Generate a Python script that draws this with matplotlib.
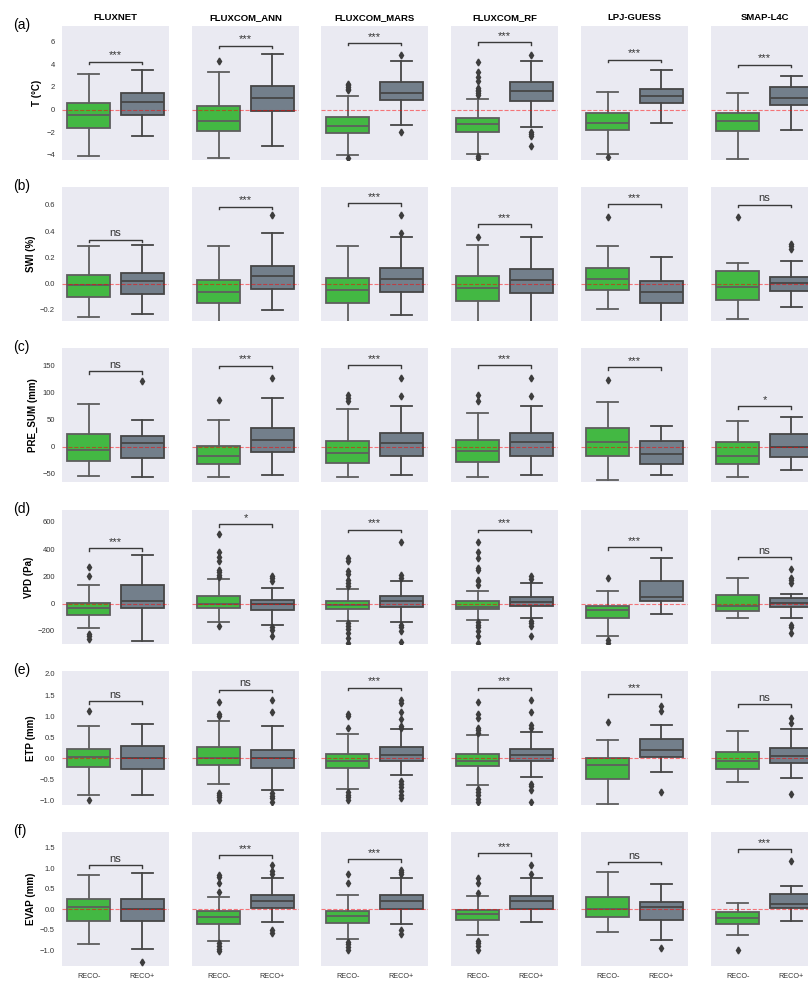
import matplotlib.pyplot as plt

plt.rcParams['font.family'] = ['Liberation Sans', 'DejaVu Sans']

products = ['FLUXNET', 'FLUXCOM_ANN', 'FLUXCOM_MARS', 'FLUXCOM_RF', 'LPJ-GUESS', 'SMAP-L4C']
groups = ['RECO-', 'RECO+']
panel_tags = ['(a)', '(b)', '(c)', '(d)', '(e)', '(f)']
ylabels = ['T (°C)', 'SWI (%)', 'PRE_SUM (mm)', 'VPD (Pa)', 'ETP (mm)', 'EVAP (mm)']

# box statistics, one (RECO-, RECO+) pair per product
t_lo = [(-4.13, -2.32), (-4.26, -3.27), (-4.02, -1.40), (-3.90, -1.58), (-3.90, -1.16), (-4.40, -1.81)]
t_q1 = [(-1.64, -0.51), (-1.88, -0.15), (-2.08, 0.83), (-1.99, 0.80), (-1.85, 0.60), (-1.94, 0.42)]
t_med = [(-0.45, 0.69), (-1.04, 1.04), (-1.46, 1.49), (-1.28, 1.61), (-1.22, 1.16), (-1.04, 1.01)]
t_q3 = [(0.56, 1.49), (0.27, 2.08), (-0.65, 2.41), (-0.71, 2.41), (-0.33, 1.82), (-0.30, 1.99)]
t_hi = [(3.19, 3.51), (3.33, 4.88), (1.22, 4.31), (0.92, 4.31), (1.58, 3.51), (1.46, 2.97)]
t_out = [([], []), ([4.29], []),
         ([2.29, 2.14, 1.99, 1.85, 1.70, -4.31], [4.82, -1.96]),
         ([4.22, 3.33, 2.88, 2.50, 1.90, 1.75, 1.60, 1.45, 1.31, -4.11, -4.31], [4.82, -1.96, -2.17, -2.38, -3.27]),
         ([-4.20], []), ([], [])]
t_bar = [4.22, 5.65, 5.89, 5.95, 4.43, 3.96]
t_sig = ['***', '***', '***', '***', '***', '***']

swi_lo = [(-0.256, -0.231), (-0.35, -0.203), (-0.35, -0.238), (-0.35, -0.35), (-0.19, -0.35), (-0.269, -0.177)]
swi_q1 = [(-0.101, -0.079), (-0.147, -0.041), (-0.147, -0.063), (-0.132, -0.068), (-0.048, -0.150), (-0.122, -0.056)]
swi_med = [(-0.008, 0.020), (-0.066, 0.056), (-0.048, 0.038), (-0.035, 0.028), (0.035, -0.061), (-0.025, 0.005)]
swi_q3 = [(0.068, 0.081), (0.025, 0.132), (0.043, 0.117), (0.061, 0.112), (0.117, 0.018), (0.096, 0.048)]
swi_hi = [(0.284, 0.292), (0.284, 0.390), (0.284, 0.355), (0.292, 0.355), (0.289, 0.203), (0.160, 0.170)]
swi_out = [([], []), ([], [0.52]), ([], [0.522, 0.39]), ([0.357], []), ([0.507], []), ([0.507], [0.304, 0.284, 0.264])]
swi_bar = [0.335, 0.588, 0.613, 0.454, 0.606, 0.603]
swi_sig = ['ns', '***', '***', '***', '***', 'ns']

pre_lo = [(-53.7, -56.8), (-56.2, -51.9), (-56.2, -51.9), (-56.2, -51.9), (-61.1, -51.9), (-55.6, -43.8)]
pre_q1 = [(-25.9, -20.4), (-32.7, -10.5), (-30.9, -17.9), (-29.0, -17.3), (-16.7, -31.5), (-31.5, -19.1)]
pre_med = [(-6.8, 6.2), (-16.7, 12.3), (-12.3, 6.2), (-8.6, 8.0), (9.3, -14.2), (-16.7, -1.2)]
pre_q3 = [(24.1, 20.4), (1.9, 34.6), (10.5, 25.9), (11.7, 24.7), (35.2, 9.9), (8.0, 23.5)]
pre_hi = [(79.6, 49.4), (49.4, 90.1), (69.1, 75.9), (62.3, 75.9), (82.1, 37.7), (48.1, 54.9)]
pre_out = [([], [122.0]), ([85.8], [127.8]), ([95.0, 90.7, 85.2], [127.8, 94.4]),
           ([95.0, 85.2], [127.8, 94.4]), ([122.8], []), ([], [])]
pre_bar = [140, 150, 151, 151, 147, 74.7]
pre_sig = ['ns', '***', '***', '***', '***', '*']

vpd_lo = [(-177, -271), (-138, -160), (-131, -135), (-118, -103), (-239, -76), (-106, -103)]
vpd_q1 = [(-84, -32), (-32, -47), (-42, -27), (-42, -20), (-106, 17), (-54, -27)]
vpd_med = [(-30, 20), (-2.5, -5), (-10, 17), (-22, 12), (-47, 47), (-17, 5)]
vpd_q3 = [(5, 133), (54, 27), (17, 54), (17, 52), (-20, 167), (62, 39)]
vpd_hi = [(138, 355), (182, 116), (106, 165), (89, 148), (94, 333), (190, 71)]
vpd_out = [([268, 200, -224, -241, -259], []),
           ([507, 379, 342, 310, 249, 230, 212, 195, -167], [200, 187, 163, -175, -190, -236]),
           ([335, 310, 239, 214, 175, 153, 126, -143, -167, -187, -219, -255, -290],
            [448, 207, 190, -160, -175, -200, -285]),
           ([448, 377, 333, 263, 244, 175, 163, 140, -138, -158, -175, -200, -240, -290],
            [202, 182, -126, -145, -165, -236]),
           ([190, -268, -290], []),
           ([], [254, 187, 170, 150, -158, -175, -212])]
vpd_bar = [404, 581, 542, 542, 414, 342]
vpd_sig = ['***', '*', '***', '***', '***', 'ns']

etp_lo = [(-0.878, -0.862), (-0.607, -0.758), (-0.734, -0.391), (-0.638, -0.455), (-1.08, -0.319), (-0.567, -0.471)]
etp_q1 = [(-0.207, -0.263), (-0.152, -0.223), (-0.231, -0.064), (-0.192, -0.064), (-0.487, 0.024), (-0.255, -0.112)]
etp_med = [(0.024, 0.008), (0.016, 0.008), (-0.072, 0.088), (-0.056, 0.088), (-0.160, 0.207), (-0.056, 0.048)]
etp_q3 = [(0.223, 0.295), (0.271, 0.184), (0.096, 0.255), (0.096, 0.215), (0.0, 0.463), (0.144, 0.231)]
etp_hi = [(0.758, 0.806), (0.894, 0.774), (0.583, 0.686), (0.559, 0.620), (0.439, 0.782), (0.654, 0.686)]
etp_out = [([1.125, -1.0], []),
           ([1.333, 1.045, 0.998, -0.83, -0.87, -0.92, -1.0], [1.373, 1.10, -0.83, -0.89, -0.95, -1.05]),
           ([1.045, 0.998, 0.718, -0.81, -0.88, -0.93, -1.0],
            [1.37, 1.32, 1.09, 0.926, 0.758, 0.726, -0.53, -0.61, -0.69, -0.77, -0.87, -0.95]),
           ([1.325, 1.045, 0.966, 0.718, 0.662, 0.607, -0.73, -0.79, -0.87, -0.97, -1.05],
            [1.37, 1.09, 0.78, 0.726, -0.60, -0.67, -0.76, -1.05]),
           ([0.87], [1.245, 1.125, -0.798]),
           ([], [0.966, 0.838, -0.854])]
etp_bar = [1.35, 1.63, 1.668, 1.668, 1.516, 1.277]
etp_sig = ['ns', 'ns', '***', '***', '***', 'ns']

evap_lo = [(-0.846, -0.984), (-0.772, -0.325), (-0.740, -0.358), (-0.634, -0.325), (-0.569, -0.756), (-0.642, -0.301)]
evap_q1 = [(-0.285, -0.285), (-0.358, 0.033), (-0.333, 0.008), (-0.268, -0.008), (-0.187, -0.268), (-0.374, 0.033)]
evap_med = [(0.057, 0.008), (-0.195, 0.203), (-0.171, 0.187), (-0.130, 0.187), (0.0, 0.041), (-0.211, 0.122)]
evap_q3 = [(0.236, 0.244), (-0.057, 0.350), (-0.057, 0.333), (-0.016, 0.325), (0.285, 0.163), (-0.065, 0.358)]
evap_hi = [(0.837, 0.878), (0.293, 0.764), (0.333, 0.764), (0.325, 0.764), (0.902, 0.602), (0.154, 0.561)]
evap_out = [([], [-1.3]),
            ([0.837, 0.772, 0.626, 0.407, -0.84, -0.90, -0.97, -1.02], [1.065, 0.935, 0.854, -0.50, -0.59]),
            ([0.862, 0.634, -0.80, -0.86, -0.92, -1.0], [0.951, 0.91, 0.854, -0.51, -0.62]),
            ([0.764, 0.642, 0.39, -0.78, -0.84, -0.89, -1.0], [1.065, 0.854]),
            ([], [-0.959]),
            ([-0.992], [1.179])]
evap_bar = [1.065, 1.31, 1.21, 1.358, 1.146, 1.455]
evap_sig = ['ns', '***', '***', '***', 'ns', '***']

variables = [
    (t_lo, t_q1, t_med, t_q3, t_hi, t_out, t_bar, t_sig),
    (swi_lo, swi_q1, swi_med, swi_q3, swi_hi, swi_out, swi_bar, swi_sig),
    (pre_lo, pre_q1, pre_med, pre_q3, pre_hi, pre_out, pre_bar, pre_sig),
    (vpd_lo, vpd_q1, vpd_med, vpd_q3, vpd_hi, vpd_out, vpd_bar, vpd_sig),
    (etp_lo, etp_q1, etp_med, etp_q3, etp_hi, etp_out, etp_bar, etp_sig),
    (evap_lo, evap_q1, evap_med, evap_q3, evap_hi, evap_out, evap_bar, evap_sig),
]
ylims = [(-4.47, 7.4), (-0.284, 0.737), (-65.4, 182.8), (-296, 686), (-1.11, 2.07), (-1.39, 1.88)]
yticks = [[-4, -2, 0, 2, 4, 6],
          [-0.2, 0.0, 0.2, 0.4, 0.6],
          [-50, 0, 50, 100, 150],
          [-200, 0, 200, 400, 600],
          [-1.0, -0.5, 0.0, 0.5, 1.0, 1.5, 2.0],
          [-1.0, -0.5, 0.0, 0.5, 1.0, 1.5]]

box_colors = ['#43b843', '#737f8b']
line_colors = ['#5e5e5e', '#464646']

FW, FH = 808, 981
left_px = [62, 192, 321, 451, 581, 711]
top_px = [26, 187, 348, 510, 671, 832]
AW, AH = 107, 134

fig = plt.figure(figsize=(FW / 100, FH / 100), dpi=100)

for i, (lo, q1, med, q3, hi, out, bar, sig) in enumerate(variables):
    for j, name in enumerate(products):
        ax = fig.add_axes([left_px[j] / FW, 1 - (top_px[i] + AH) / FH, AW / FW, AH / FH])
        ax.set_facecolor('#eaeaf2')
        for s in ax.spines.values():
            s.set_visible(False)

        stats = [dict(whislo=lo[j][k], q1=q1[j][k], med=med[j][k], q3=q3[j][k],
                      whishi=hi[j][k], fliers=out[j][k]) for k in range(2)]
        art = ax.bxp(stats, positions=[0, 1], widths=0.8, patch_artist=True, showfliers=True)
        for k in range(2):
            lc = line_colors[k]
            art['boxes'][k].set(facecolor=box_colors[k], edgecolor=lc, linewidth=1.3)
            art['medians'][k].set(color=lc, linewidth=1.3)
            for ln in art['whiskers'][2 * k:2 * k + 2] + art['caps'][2 * k:2 * k + 2]:
                ln.set(color=lc, linewidth=1.3)
            art['fliers'][k].set(marker='d', markersize=3.5, markerfacecolor='#3d3d3d',
                                 markeredgecolor='#3d3d3d')

        ax.axhline(0, color='red', lw=0.8, ls='--', alpha=0.5, zorder=3)

        # significance bracket between the two groups
        y0, y1 = ylims[i]
        tick = 0.018 * (y1 - y0)
        ax.plot([0, 0, 1, 1], [bar[j] - tick, bar[j], bar[j], bar[j] - tick],
                color='#3a3a3a', lw=1.0)
        ax.annotate(sig[j], xy=(0.5, bar[j]), xytext=(0, 1), textcoords='offset points',
                    ha='center', va='bottom', fontsize=8, color='#333333')

        ax.set_xlim(-0.5, 1.5)
        ax.set_ylim(*ylims[i])
        ax.set_yticks(yticks[i])
        ax.set_xticks([0, 1])
        ax.tick_params(length=0, labelsize=5.5, labelcolor='#333333', pad=5)

        if j == 0:
            ax.set_ylabel(ylabels[i], fontsize=7, fontweight='bold', labelpad=3)
        else:
            ax.set_yticklabels([])
        if i == len(variables) - 1:
            ax.set_xticklabels(groups, fontsize=5.2)
        else:
            ax.set_xticklabels([])
        if i == 0:
            ax.set_title(name, fontsize=6.8, fontweight='bold', pad=4)

    fig.text(13 / FW, 1 - (top_px[i] - 1) / FH, panel_tags[i], fontsize=10,
             ha='left', va='center')

fig.savefig('out.png', dpi=100)
